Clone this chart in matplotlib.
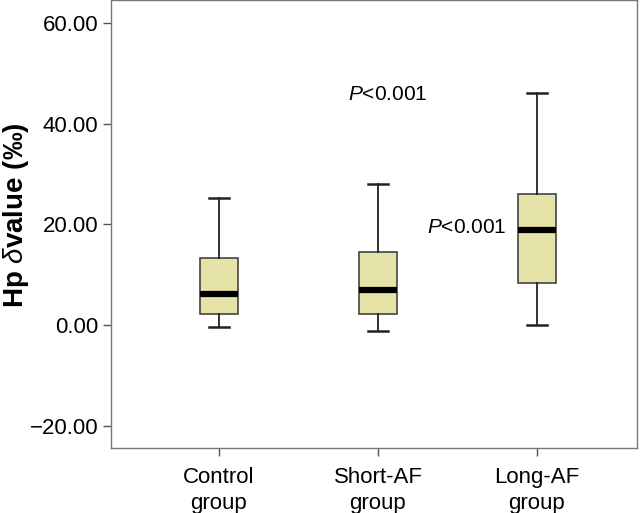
import matplotlib.pyplot as plt

plt.rcParams['font.family'] = ['Liberation Sans', 'DejaVu Sans']
plt.rcParams['mathtext.fontset'] = 'custom'
plt.rcParams['mathtext.it'] = 'Liberation Sans:italic'

groups = ['Control\ngroup', 'Short-AF\ngroup', 'Long-AF\ngroup']
whislo = [-0.3, -1.2, 0.0]
q1 = [2.1, 2.1, 8.4]
med = [6.2, 7.0, 18.9]
q3 = [13.3, 14.5, 26.0]
whishi = [25.3, 28.0, 46.1]
yticks = [-20, 0, 20, 40, 60]

stats = []
for i in range(len(groups)):
    stats.append({'whislo': whislo[i], 'q1': q1[i], 'med': med[i],
                  'q3': q3[i], 'whishi': whishi[i], 'fliers': []})

fig = plt.figure(figsize=(6.44, 5.13), dpi=100)
ax = fig.add_axes([111 / 644, 65 / 513, 526 / 644, 448 / 513])

ax.bxp(stats, positions=[1, 2, 3], widths=0.24, patch_artist=True,
       boxprops=dict(facecolor='#e6e3a8', edgecolor='#444444', linewidth=1.2),
       medianprops=dict(color='black', linewidth=4.5, solid_capstyle='butt'),
       whiskerprops=dict(color='#222222', linewidth=1.3),
       capprops=dict(color='#222222', linewidth=1.8), capwidths=0.12)

ax.set_xlim(0.321, 3.629)
ax.set_ylim(-24.45, 64.6)
ax.set_yticks(yticks)
ax.set_yticklabels(['\u2212%.2f' % -v if v < 0 else '%.2f' % v for v in yticks])
ax.set_xticks([1, 2, 3])
ax.set_xticklabels(groups, linespacing=1.3)
ax.tick_params(axis='both', labelsize=16, color='#555555', length=6, width=1)
ax.tick_params(axis='x', pad=8)
ax.tick_params(axis='y', pad=3)
for s in ax.spines.values():
    s.set_color('#777777')
    s.set_linewidth(1)

ax.set_ylabel(r'Hp $\delta$value (‰)', fontsize=20, fontweight='bold')
ax.yaxis.label.set_va('center')
ax.yaxis.set_label_coords(-95 / 526, 0.52)

ax.text(2.06, 45.9, r'$P$<0.001', fontsize=15, ha='center', va='center')
ax.text(2.81, 19.3, r'$P$<0.001', fontsize=15, ha='right', va='center')

fig.savefig('out.png', dpi=100)
